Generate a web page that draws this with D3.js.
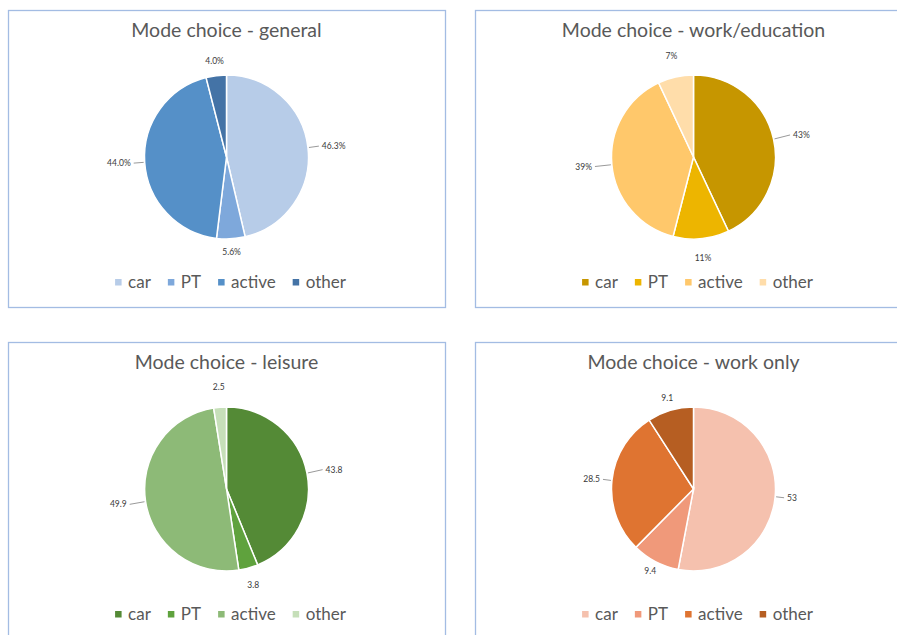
<!DOCTYPE html>
<html>
<head>
<meta charset="utf-8">
<script src="https://cdn.jsdelivr.net/npm/d3@7"></script>
<style>
  html, body { margin: 0; padding: 0; background: #ffffff; }
  svg { display: block; }
</style>
</head>
<body>
<svg id="chart" width="897" height="635"></svg>
<script>
// ---- data ----
const categories = ["car", "PT", "active", "other"];

const titleGeneral = "Mode choice - general";
const valuesGeneral = [46.3, 5.6, 44.0, 4.0];

const titleWorkEdu = "Mode choice - work/education";
const valuesWorkEdu = [43, 11, 39, 7];

const titleLeisure = "Mode choice - leisure";
const valuesLeisure = [43.8, 3.8, 49.9, 2.5];

const titleWorkOnly = "Mode choice - work only";
const valuesWorkOnly = [53, 9.4, 28.5, 9.1];

// ---- colours ----
const coloursGeneral = ["#B7CCE8", "#7EA8DB", "#5590C8", "#4473A6"];
const coloursWorkEdu = ["#C69600", "#EDB500", "#FFC86B", "#FFDDAA"];
const coloursLeisure = ["#548A36", "#5FA23D", "#8DBA77", "#C6DFB9"];
const coloursWorkOnly = ["#F5C1AE", "#F0997A", "#DF7431", "#B65E22"];

const fmtPct1 = v => v.toFixed(1) + "%";
const fmtPct0 = v => v + "%";
const fmtNum = v => String(v);

const panels = [
  { title: titleGeneral, values: valuesGeneral, colours: coloursGeneral, fmt: fmtPct1, x: 8, y: 10, labelR: 95 },
  { title: titleWorkEdu, values: valuesWorkEdu, colours: coloursWorkEdu, fmt: fmtPct0, x: 475, y: 10, labelR: 101 },
  { title: titleLeisure, values: valuesLeisure, colours: coloursLeisure, fmt: fmtNum, x: 8, y: 342, labelR: 100 },
  { title: titleWorkOnly, values: valuesWorkOnly, colours: coloursWorkOnly, fmt: fmtNum, x: 475, y: 342, labelR: 93 }
];

const W = 437, H = 297, R = 82, CX = W / 2, CY = 147;
const FONT = "Lato, 'Open Sans', sans-serif";

const svg = d3.select("#chart");

panels.forEach(p => {
  const g = svg.append("g").attr("transform", `translate(${p.x},${p.y})`);

  g.append("rect")
    .attr("x", 0.5).attr("y", 0.5)
    .attr("width", W).attr("height", H)
    .attr("fill", "#ffffff")
    .attr("stroke", "#A3BCE3")
    .attr("stroke-width", 1.3);

  g.append("text")
    .attr("x", CX).attr("y", 27)
    .attr("text-anchor", "middle")
    .attr("font-family", FONT)
    .attr("font-size", 19.5)
    .attr("fill", "#595959")
    .text(p.title);

  const color = d3.scaleOrdinal().domain(categories).range(p.colours);
  const data = categories.map((c, i) => ({ cat: c, value: p.values[i] }));
  const pie = d3.pie().value(d => d.value).sort(null);
  const arcs = pie(data);
  const arc = d3.arc().innerRadius(0).outerRadius(R);

  const pg = g.append("g").attr("transform", `translate(${CX},${CY})`);
  pg.selectAll("path.slice")
    .data(arcs)
    .join("path")
    .attr("class", "slice")
    .attr("d", arc)
    .attr("fill", d => color(d.data.cat))
    .attr("stroke", "#ffffff")
    .attr("stroke-width", 1.5);

  // labels
  arcs.forEach(a => {
    const mid = (a.startAngle + a.endAngle) / 2;
    const s = Math.sin(mid), c = -Math.cos(mid);
    const lx = s * p.labelR, ly = c * p.labelR;
    let anchor = "middle";
    if (s > 0.5) anchor = "start";
    else if (s < -0.5) anchor = "end";
    const side = Math.abs(s) > 0.5;
    if (side) {
      pg.append("line")
        .attr("x1", s * (R + 1)).attr("y1", c * (R + 1))
        .attr("x2", lx - (s > 0 ? 2 : -2)).attr("y2", ly)
        .attr("stroke", "#7f7f7f").attr("stroke-width", 0.8);
    }
    pg.append("text")
      .attr("x", lx + (side ? (s > 0 ? 1 : -1) : 0))
      .attr("y", ly + 3 + (side ? 0 : (c < 0 ? -2 : 0)))
      .attr("text-anchor", anchor)
      .attr("font-family", FONT)
      .attr("font-size", 8.5)
      .attr("fill", "#3a3a3a")
      .text(p.fmt(a.data.value));
  });

  // legend
  const lg = g.append("g");
  let xPos = 0;
  categories.forEach(cat => {
    const it = lg.append("g").attr("transform", `translate(${xPos},0)`);
    it.append("rect").attr("x", 0).attr("y", -9).attr("width", 6.5).attr("height", 6.5)
      .attr("fill", color(cat));
    const t = it.append("text").attr("x", 13).attr("y", 0)
      .attr("font-family", FONT).attr("font-size", 17).attr("fill", "#595959").text(cat);
    const tw = t.node().getComputedTextLength();
    xPos += 13 + tw + 17;
  });
  const totalW = xPos - 17;
  lg.attr("transform", `translate(${CX + 4 - totalW / 2},278)`);
});
</script>
</body>
</html>
